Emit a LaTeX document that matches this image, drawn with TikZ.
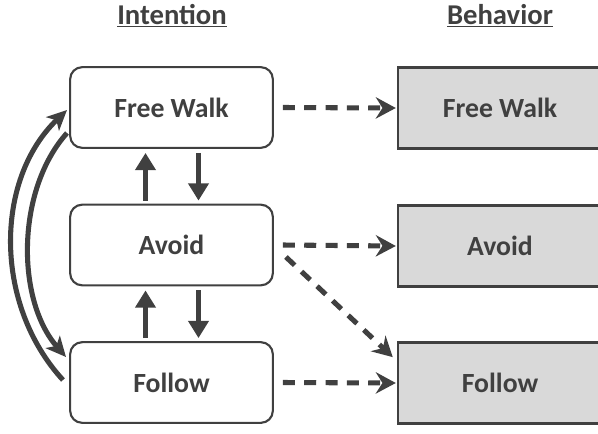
\documentclass[tikz,border=0pt]{standalone}
\usepackage{fontspec}
\setmainfont{Carlito}
\usetikzlibrary{arrows.meta,calc}
\definecolor{ink}{HTML}{404040}
\definecolor{boxfill}{HTML}{D9D9D9}
\begin{document}
\begin{tikzpicture}[x=0.75pt,y=-0.75pt,
  ibox/.style={draw=ink,line width=1.6pt,rounded corners=9pt,minimum width=152pt,minimum height=60.5pt,fill=white,text=ink,font=\bfseries\fontsize{20.8}{24}\selectfont},
  bbox/.style={draw=ink,line width=1.8pt,fill=boxfill,minimum width=153pt,minimum height=61pt,text=ink,font=\bfseries\fontsize{20.8}{24}\selectfont},
  ttl/.style={text=ink,font=\bfseries\fontsize{21.5}{25}\selectfont},
  solidarr/.style={draw=ink,line width=3.6pt,-{Triangle[length=13pt,width=15pt]}},
  dasharr/.style={draw=ink,line width=3.8pt,dash pattern=on 9pt off 7pt,-{Stealth[length=15pt,width=16pt,inset=5pt]}},
  curvarr/.style={draw=ink,line width=3.8pt,-{Stealth[length=15pt,width=14pt,inset=4pt]}}
]
\useasboundingbox (0,0) rectangle (598,433);
\clip (0,0) rectangle (598,433);
\node[ttl] (t1) at (172,16) {\underline{Intention}};
\node[ttl] (t2) at (500,16) {\underline{Behavior}};

\node[ibox] (fw) at (171.5,107.5) {Free Walk};
\node[ibox] (av) at (171.5,245) {Avoid};
\node[ibox] (fl) at (171.5,382.5) {Follow};

\node[bbox] (bfw) at (500,108) {Free Walk};
\node[bbox] (bav) at (500,246) {Avoid};
\node[bbox] (bfl) at (500,383) {Follow};

% vertical arrows
\draw[solidarr] ($(av.north)+(-26,-3)$) -- ($(fw.south)+(-26,4)$);
\draw[solidarr] ($(fw.south)+(27,4)$) -- ($(av.north)+(27,-3)$);
\draw[solidarr] ($(fl.north)+(-26,-3)$) -- ($(av.south)+(-26,4)$);
\draw[solidarr] ($(av.south)+(27,4)$) -- ($(fl.north)+(27,-3)$);

% dashed arrows
\draw[dasharr] ($(fw.east)+(9,0)$) -- ($(bfw.west)+(-1,0)$);
\draw[dasharr] ($(av.east)+(9,0)$) -- ($(bav.west)+(-1,0)$);
\draw[dasharr] ($(fl.east)+(9,0)$) -- ($(bfl.west)+(-1,0)$);
\draw[dasharr] ($(av.east)+(12,12)$) -- ($(bfl.north west)+(-4,16)$);

% curved arrows
\coordinate (c1s) at (63,380);
\coordinate (c1e) at (67,110);
\coordinate (c2s) at (67,133);
\coordinate (c2e) at (66,357);
\draw[curvarr] (c1s) .. controls (-6,305) and (-6,180) .. (c1e);
\draw[curvarr] (c2s) .. controls (16,190) and (16,300) .. (c2e);
\end{tikzpicture}
\end{document}
